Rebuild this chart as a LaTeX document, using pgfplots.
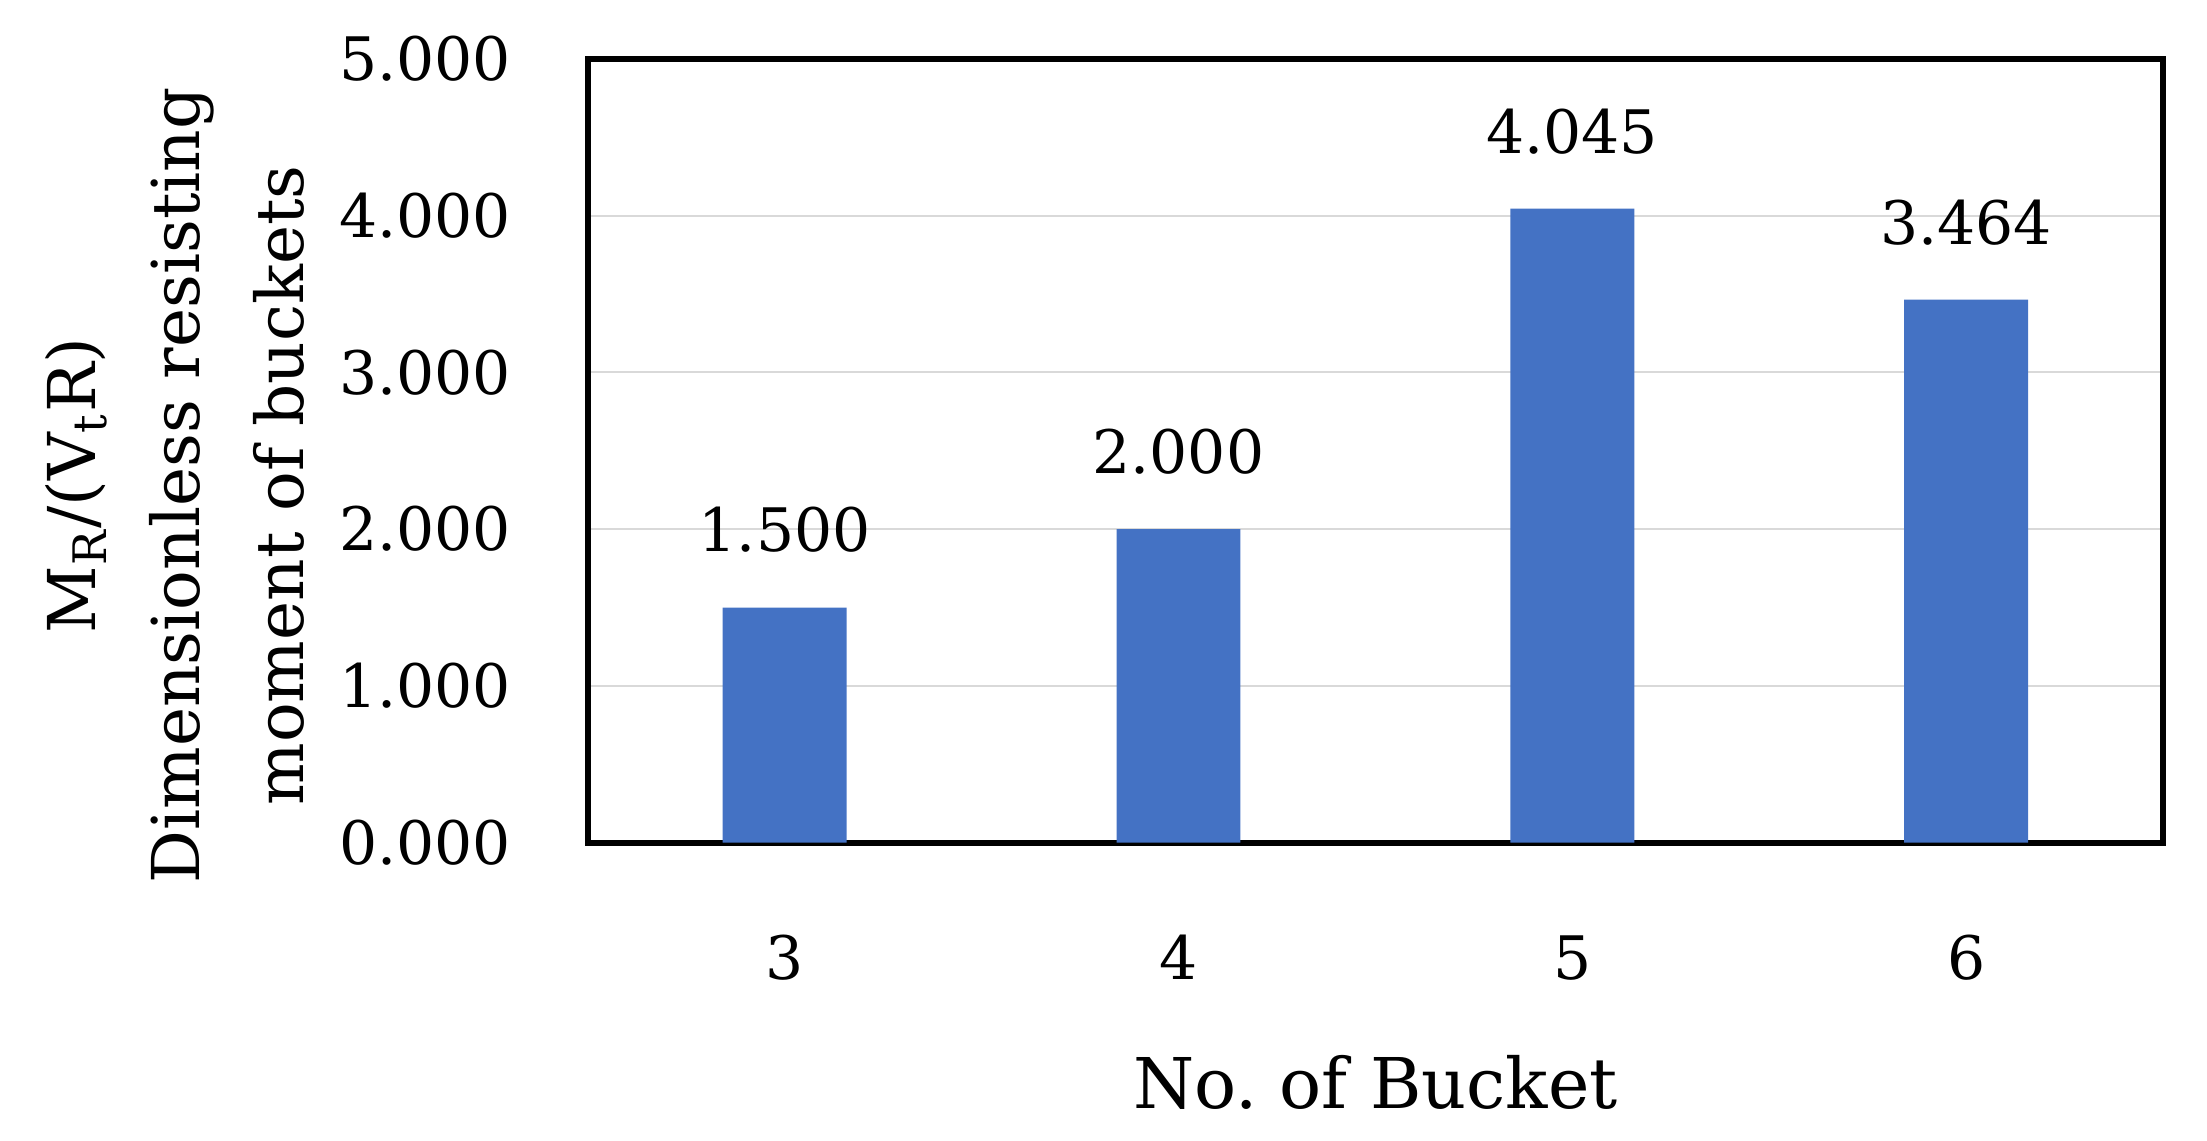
\documentclass[border=0pt]{standalone}
\usepackage{pgfplots}
\pgfplotsset{compat=1.18}
\usepackage{fontspec}
\setmainfont{DejaVu Serif}
\frenchspacing
\definecolor{barblue}{HTML}{4472C4}
\definecolor{gridgrey}{HTML}{D9D9D9}
\begin{document}
\begin{tikzpicture}
\begin{axis}[
  name=ax,
  scale only axis=true,
  width=394pt, height=196pt,
  xmin=-0.5, xmax=3.5,
  ymin=0, ymax=5,
  xtick=data,
  xticklabels={3,4,5,6},
  ytick={0,1,2,3,4,5},
  major tick length=0pt,
  ymajorgrids=true,
  grid style={gridgrey, line width=0.5pt},
  axis line style={black, line width=1.5pt},
  /pgf/number format/assume math mode=true,
  yticklabel style={/pgf/number format/fixed, /pgf/number format/fixed zerofill, /pgf/number format/precision=3, font=\fontsize{15}{18}\selectfont, inner sep=0pt, anchor=east, xshift=-19pt},
  xticklabel style={font=\fontsize{15}{18}\selectfont, inner sep=0pt, anchor=north, yshift=-23pt},
  xlabel={No.\ of Bucket},
  xlabel style={font=\fontsize{17.5}{20}\selectfont, inner sep=0pt, at={(axis description cs:0.5,0)}, anchor=north, yshift=-53pt},
  ylabel={M\textsubscript{R}/(V\textsubscript{t}R)\\Dimensionless resisting\\moment of buckets},
  ylabel style={font=\fontsize{16.5}{26}\selectfont, align=center, inner sep=0pt, at={(axis description cs:-0.262,0.456)}, anchor=center},
  nodes near coords={\pgfmathprintnumber[fixed,fixed zerofill,precision=3]{\pgfplotspointmeta}},
  nodes near coords style={font=\fontsize{15}{18}\selectfont, inner sep=0pt, anchor=south, yshift=13.5pt, black},
  clip=false,
]
\addplot[ybar, bar width=31pt, fill=barblue, draw=none] coordinates {(0,1.500) (1,2.000) (2,4.045) (3,3.464)};
\end{axis}
\path[use as bounding box] ([xshift=-147pt,yshift=-74.5pt]ax.south west) rectangle ([xshift=11pt,yshift=14.75pt]ax.north east);
\end{tikzpicture}
\end{document}
